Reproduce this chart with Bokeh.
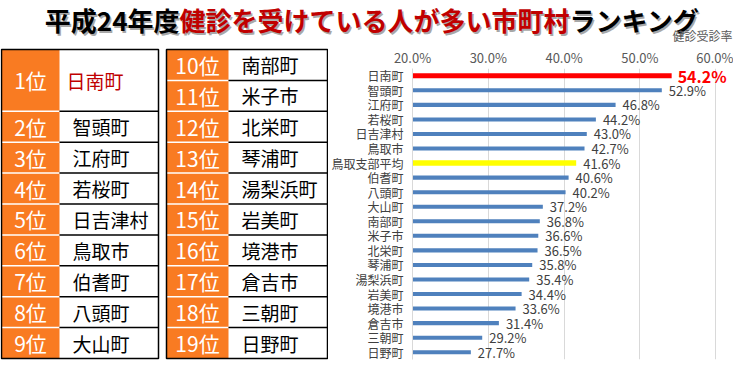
from bokeh.plotting import figure
from bokeh.layouts import column, row
from bokeh.models import Range1d, FactorRange, NumeralTickFormatter, FixedTicker, ColumnDataSource
from bokeh.core.properties import value
from bokeh.embed import file_html
from bokeh.resources import INLINE

FONT = "Noto Sans CJK JP"

# ---------------- data ----------------
title_parts = ["平成24年度", "健診を受けている人が多い市町村", "ランキング"]
axis_title = "健診受診率"
categories = ["日南町", "智頭町", "江府町", "若桜町", "日吉津村", "鳥取市", "鳥取支部平均",
              "伯耆町", "八頭町", "大山町", "南部町", "米子市", "北栄町", "琴浦町",
              "湯梨浜町", "岩美町", "境港市", "倉吉市", "三朝町", "日野町"]
rates = [54.2, 52.9, 46.8, 44.2, 43.0, 42.7, 41.6, 40.6, 40.2, 37.2,
         36.8, 36.6, 36.5, 35.8, 35.4, 34.4, 33.6, 31.4, 29.2, 27.7]
average_label = "鳥取支部平均"
x_ticks = [20, 30, 40, 50, 60]
rank_suffix = "位"

# ---------------- styles ----------------
ORANGE = "#F97B22"
DARKRED = "#C00000"
BLUE = "#4F81BD"
RED = "#FF0000"
YELLOW = "#FFFF00"
GRID = "#D9D9D9"
TXT = "#404040"


def bare(fig):
    fig.outline_line_color = None
    fig.background_fill_color = "white"
    fig.border_fill_color = "white"
    fig.grid.grid_line_color = None
    return fig


# ---------------- title figure ----------------
TW, TH = 733, 44
tf = figure(width=TW, height=TH, title=None,
            x_range=Range1d(0, TW), y_range=Range1d(TH, 0),
            x_axis_type=None, y_axis_type=None, min_border=0,
            output_backend="svg", toolbar_location=None)
bare(tf)
cx, cy, fs = 374, 19, 26
half_mid = len(title_parts[1]) * fs / 2
pos = [(cx - half_mid, "right", "black"), (cx, "center", DARKRED), (cx + half_mid, "left", "black")]
for txt, (x, al, col) in zip(title_parts, pos):
    tf.text(x=[x + 1.5], y=[cy + 1.5], text=[txt], text_align=al, text_baseline="middle",
            text_font=value(FONT), text_font_size=f"{fs}px", text_font_style="bold",
            text_color="#A8A8A8")
    tf.text(x=[x], y=[cy], text=[txt], text_align=al, text_baseline="middle",
            text_font=value(FONT), text_font_size=f"{fs}px", text_font_style="bold",
            text_color=col)
tf.text(x=[TW - 1], y=[35], text=[axis_title], text_align="right", text_baseline="middle",
        text_font=value(FONT), text_font_size="12px", text_color="#595959")

# ---------------- table figure ----------------
LW, LH = 328, 319
lf = figure(width=LW, height=LH, title=None,
            x_range=Range1d(0, LW), y_range=Range1d(LH, 0),
            x_axis_type=None, y_axis_type=None, min_border=0,
            output_backend="svg", toolbar_location=None)
bare(lf)

ranked = [c for c in categories if c != average_label]
top, unit = 5, 30.9
tables = [(1, 59, 158), (166, 228, 327)]  # (left, split, right)
left_n = 9

cells = dict(l=[], s=[], r=[], t=[], b=[], rank=[], name=[], mid=[])
for i, name in enumerate(ranked):
    rank = i + 1
    if rank <= left_n:
        tb = 0
        start = 0 if rank == 1 else rank
        span = 2 if rank == 1 else 1
    else:
        tb = 1
        start = rank - (left_n + 1)
        span = 1
    l, s, r = tables[tb]
    t = top + start * unit
    b = t + span * unit
    cells["l"].append(l); cells["s"].append(s); cells["r"].append(r)
    cells["t"].append(t); cells["b"].append(b)
    cells["rank"].append(f"{rank}{rank_suffix}")
    cells["name"].append(name)
    cells["mid"].append((t + b) / 2)

lf.quad(left=cells["l"], right=cells["s"], top=cells["t"], bottom=cells["b"],
        fill_color=ORANGE, line_color=None)
sep_i = [k for k in range(len(ranked)) if cells["t"][k] > top + 0.1]
lf.segment(x0=[cells["l"][k] for k in sep_i], x1=[cells["s"][k] for k in sep_i],
           y0=[cells["t"][k] for k in sep_i], y1=[cells["t"][k] for k in sep_i],
           line_color="white", line_width=1.5)
lf.segment(x0=[cells["s"][k] for k in sep_i], x1=[cells["r"][k] for k in sep_i],
           y0=[cells["t"][k] for k in sep_i], y1=[cells["t"][k] for k in sep_i],
           line_color="black", line_width=1.5)
lf.quad(left=[t[0] for t in tables], right=[t[2] for t in tables],
        top=[top] * 2, bottom=[top + 10 * unit] * 2,
        fill_color=None, line_color="black", line_width=1.5)
lf.text(x=[(l + s) / 2 for l, s in zip(cells["l"], cells["s"])], y=cells["mid"], text=cells["rank"],
        text_align="center", text_baseline="middle", text_font=value(FONT),
        text_font_size="21px", text_color="white")
hl = [k == 0 for k in range(len(ranked))]
lf.text(x=[s + (7 if h else 13) for s, h in zip(cells["s"], hl)], y=cells["mid"], text=cells["name"],
        text_align="left", text_baseline="middle", text_font=value(FONT),
        text_font_size="19px", text_color=[DARKRED if h else "black" for h in hl])

# ---------------- bar chart ----------------
PW, PH = 405, 319
BL, BT, BB = 82, 22, 4
FW, FH = PW - BL, PH - BT - BB
px_per_pct = 7.625
x0 = x_ticks[0] / 100
x1 = x0 + FW / px_per_pct / 100
p = figure(width=PW, height=PH, title=None,
           y_range=FactorRange(*categories[::-1]),
           x_range=Range1d(x0, x1), x_axis_location="above",
           min_border_left=BL, min_border_right=0, min_border_top=BT, min_border_bottom=BB,
           output_backend="svg", toolbar_location=None)
p.outline_line_color = None
p.background_fill_color = "white"
p.border_fill_color = "white"

fr = [v / 100 for v in rates]
is_top = [i == 0 for i in range(len(categories))]
is_avg = [c == average_label for c in categories]
colors = [RED if t else (YELLOW if a else BLUE) for t, a in zip(is_top, is_avg)]
heights = [0.34 if t else (0.38 if a else 0.28) for t, a in zip(is_top, is_avg)]
src = ColumnDataSource(dict(y=categories, right=fr, left=[x0] * len(fr), color=colors, h=heights))
p.hbar(y="y", left="left", right="right", height="h", fill_color="color", line_color=None, source=src)

lab = [f"{v:.1f}%" for v in rates]
others = [i for i in range(len(categories)) if not is_top[i]]
p.text(x=[fr[i] for i in others], y=[categories[i] for i in others], text=[lab[i] for i in others],
       x_offset=7, text_align="left", text_baseline="middle", text_font=value(FONT),
       text_font_size="13px", text_color=TXT)
tops = [i for i in range(len(categories)) if is_top[i]]
p.text(x=[fr[i] for i in tops], y=[categories[i] for i in tops], text=[lab[i] for i in tops],
       x_offset=6, text_align="left", text_baseline="middle", text_font=value(FONT),
       text_font_size="16px", text_font_style="bold", text_color=RED)

tk = [t / 100 for t in x_ticks]
p.xaxis.ticker = FixedTicker(ticks=tk)
p.xaxis.formatter = NumeralTickFormatter(format="0.0%")
p.xaxis.major_label_text_font = FONT
p.xaxis.major_label_text_font_size = "13px"
p.xaxis.major_label_text_color = "#595959"
p.xaxis.axis_line_color = None
p.xaxis.major_tick_line_color = None
p.xaxis.minor_tick_line_color = None
p.xaxis.major_tick_out = 0
p.xaxis.major_label_standoff = 2

p.yaxis.major_label_text_font = FONT
p.yaxis.major_label_text_font_size = "12px"
p.yaxis.major_label_text_color = TXT
p.yaxis.major_label_standoff = 9
p.yaxis.major_tick_line_color = None
p.yaxis.minor_tick_line_color = None
p.yaxis.major_tick_out = 0
p.yaxis.axis_line_color = GRID

p.xgrid.ticker = FixedTicker(ticks=tk)
p.xgrid.grid_line_color = GRID
p.ygrid.grid_line_color = None

layout = column(tf, row(lf, column(p, spacing=0), spacing=0), spacing=0)
open("out.html", "w").write(file_html(layout, INLINE))
